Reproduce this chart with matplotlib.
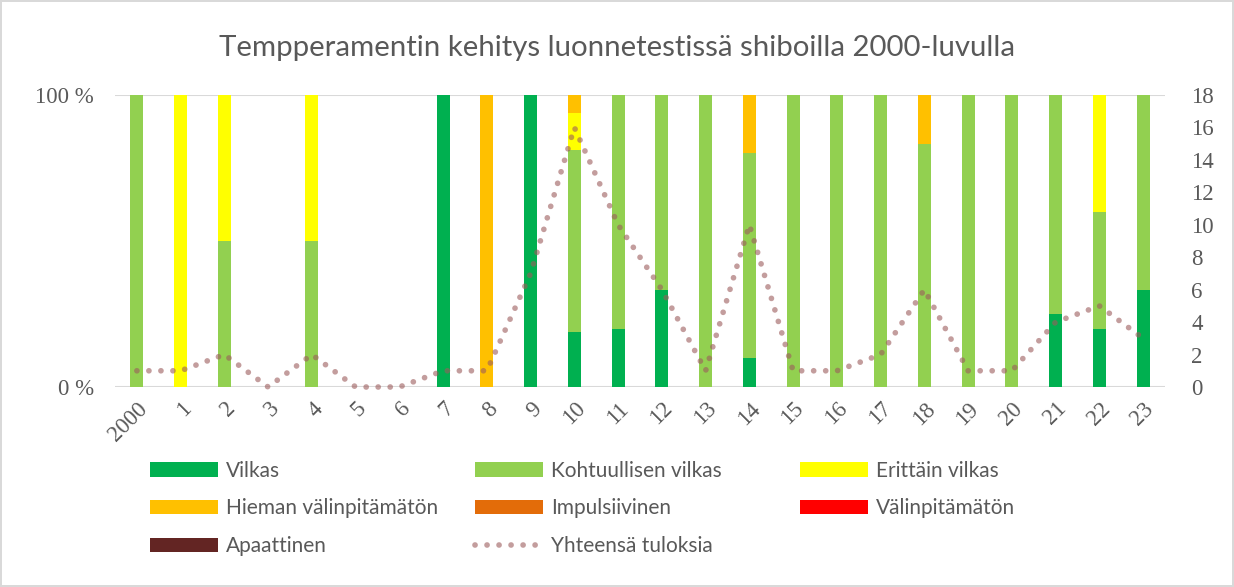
import numpy as np
import matplotlib
matplotlib.use('Agg')
import matplotlib.pyplot as plt
from matplotlib.patches import Patch
from matplotlib.lines import Line2D

# data
years = ['2000', '1', '2', '3', '4', '5', '6', '7', '8', '9', '10', '11',
         '12', '13', '14', '15', '16', '17', '18', '19', '20', '21', '22', '23']
vilkas        = [0, 0, 0, 0, 0, 0, 0, 1, 0, 7, 3, 2, 2, 0, 1, 0, 0, 0, 0, 0, 0, 1, 1, 1]
kohtuullisen  = [1, 0, 1, 0, 1, 0, 0, 0, 0, 0, 10, 8, 4, 1, 7, 1, 1, 2, 5, 1, 1, 3, 2, 2]
erittain      = [0, 1, 1, 0, 1, 0, 0, 0, 0, 0, 2, 0, 0, 0, 0, 0, 0, 0, 0, 0, 0, 0, 2, 0]
hieman        = [0, 0, 0, 0, 0, 0, 0, 0, 1, 0, 1, 0, 0, 0, 2, 0, 0, 0, 1, 0, 0, 0, 0, 0]
impulsiivinen = [0] * 24
valinpitamaton = [0] * 24
apaattinen    = [0] * 24

series = [
    ('Vilkas', vilkas, '#00B050'),
    ('Kohtuullisen vilkas', kohtuullisen, '#92D050'),
    ('Erittäin vilkas', erittain, '#FFFF00'),
    ('Hieman välinpitämätön', hieman, '#FFC000'),
    ('Impulsiivinen', impulsiivinen, '#E36C09'),
    ('Välinpitämätön', valinpitamaton, '#FF0000'),
    ('Apaattinen', apaattinen, '#632523'),
]

counts = np.array([s[1] for s in series], dtype=float)
total = counts.sum(axis=0)
share = np.divide(counts, total, out=np.zeros_like(counts), where=total > 0)

x = np.arange(len(years))

fig = plt.figure(figsize=(12.34, 5.87), dpi=100)
fig.patch.set_edgecolor('#d9d9d9')
fig.patch.set_linewidth(1.5)
ax = fig.add_axes([115 / 1234, 1 - 387 / 587, 1050 / 1234, 292 / 587])
ax2 = ax.twinx()

bottom = np.zeros(len(years))
for i, (name, _, col) in enumerate(series):
    ax.bar(x, share[i], 0.3, bottom=bottom, color=col, zorder=3)
    bottom += share[i]

line_col = '#9c5c5c'
dots = (0, (0.01, 2.1))
ax2.plot(x, total, color=line_col, alpha=0.6, lw=4.1, linestyle=dots,
         dash_capstyle='round', zorder=4, clip_on=False)

ax.set_xlim(-0.5, len(years) - 0.5)
ax.set_ylim(0, 1)
ax2.set_ylim(0, 18)
ax.set_yticks([0, 1])
ax.set_yticklabels(['0 %', '100 %'])
ax2.set_yticks(np.arange(0, 19, 2))
ax.set_xticks(x)
ax.set_xticklabels(years, rotation=45, ha='right', rotation_mode='anchor')

serif = 'Liberation Serif'
for lab in ax.get_yticklabels() + ax2.get_yticklabels() + ax.get_xticklabels():
    lab.set_fontfamily(serif)
    lab.set_fontsize(16.5)
    lab.set_color('#595959')

for a in (ax, ax2):
    for s in a.spines.values():
        s.set_visible(False)
    a.tick_params(length=0)
ax.tick_params(axis='x', pad=8)
ax.tick_params(axis='y', pad=15)
ax2.tick_params(axis='y', pad=19)
ax.grid(axis='y', color='#d9d9d9', lw=1.5, zorder=0)
ax.set_axisbelow(True)

fig.text(0.5, 1 - 48 / 587, 'Tempperamentin kehitys luonnetestissä shiboilla 2000-luvulla',
         ha='center', va='center', fontsize=21.2, color='#595959', family='Lato')

handles = [Patch(facecolor=c, label=n) for n, _, c in series]
handles.append(Line2D([0], [0], color=line_col, alpha=0.6, lw=4.1,
                      linestyle=dots, dash_capstyle='round',
                      label='Yhteensä tuloksia'))
columns = [[0, 3, 6], [1, 4, 7], [2, 5]]
col_x = [131, 456, 781]
for cols, cx in zip(columns, col_x):
    leg = fig.legend([handles[i] for i in cols], [handles[i].get_label() for i in cols],
                     ncol=1, loc='upper left', bbox_to_anchor=(cx / 1234, 1 - 442 / 587),
                     frameon=False, prop={'family': 'Lato', 'size': 15},
                     handlelength=3.27, handleheight=0.67, handletextpad=0.4,
                     labelspacing=0.85, labelcolor='#595959')

fig.savefig('out.png', dpi=100)
